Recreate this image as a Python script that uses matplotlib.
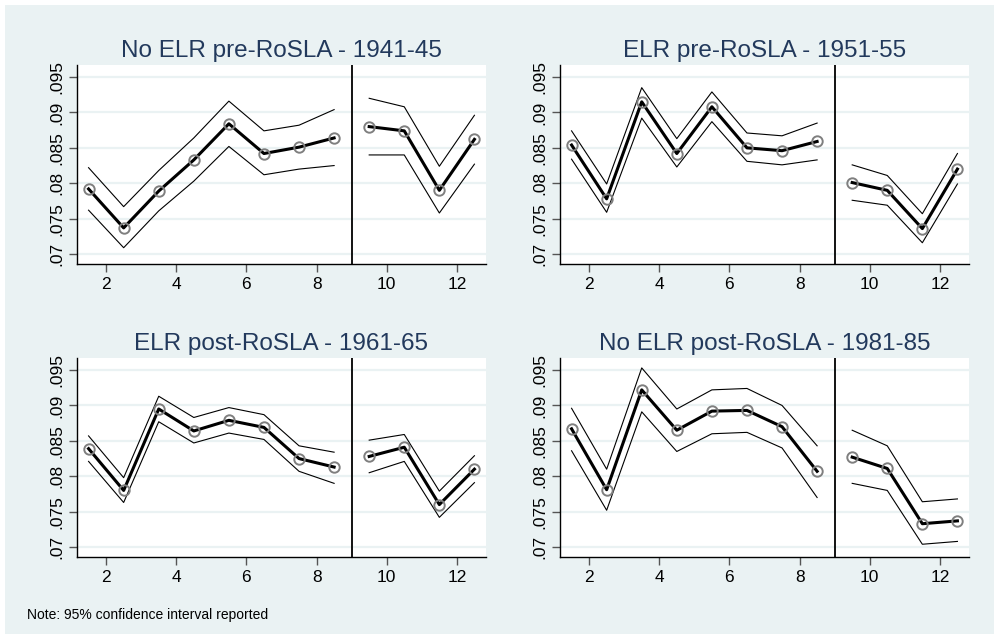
import matplotlib.pyplot as plt
from matplotlib.patches import Rectangle

plt.rcParams['font.family'] = ['Liberation Sans', 'DejaVu Sans']

# bins: 1.5 .. 8.5 before the cut, 9.5 .. 12.5 after
x_pre = [1.5, 2.5, 3.5, 4.5, 5.5, 6.5, 7.5, 8.5]
x_post = [9.5, 10.5, 11.5, 12.5]

titles = ["No ELR pre-RoSLA - 1941-45", "ELR pre-RoSLA - 1951-55",
          "ELR post-RoSLA - 1961-65", "No ELR post-RoSLA - 1981-85"]

est_4145 = [.0792, .0737, .0789, .0833, .0884, .0842, .0851, .0864, .0880, .0874, .0790, .0862]
hi_4145 = [.0822, .0767, .0818, .0864, .0916, .0874, .0882, .0904, .0920, .0908, .0824, .0896]
lo_4145 = [.0762, .0709, .0761, .0803, .0852, .0812, .0820, .0825, .0840, .0840, .0758, .0827]

est_5155 = [.0854, .0778, .0915, .0842, .0908, .0850, .0846, .0859, .0801, .0790, .0736, .0820]
hi_5155 = [.0874, .0799, .0935, .0863, .0929, .0871, .0867, .0885, .0826, .0811, .0757, .0842]
lo_5155 = [.0834, .0759, .0892, .0823, .0887, .0831, .0826, .0833, .0776, .0769, .0716, .0799]

est_6165 = [.0839, .0780, .0895, .0864, .0879, .0869, .0825, .0813, .0828, .0841, .0760, .0810]
hi_6165 = [.0857, .0798, .0913, .0883, .0897, .0887, .0843, .0834, .0851, .0859, .0779, .0829]
lo_6165 = [.0821, .0763, .0877, .0847, .0861, .0852, .0807, .0790, .0805, .0821, .0742, .0791]

est_8185 = [.0867, .0781, .0922, .0865, .0892, .0893, .0870, .0807, .0827, .0811, .0733, .0737]
hi_8185 = [.0896, .0810, .0953, .0895, .0922, .0924, .0900, .0843, .0865, .0843, .0764, .0768]
lo_8185 = [.0836, .0752, .0891, .0835, .0860, .0862, .0840, .0770, .0790, .0780, .0704, .0708]

panels = [(est_4145, lo_4145, hi_4145), (est_5155, lo_5155, hi_5155),
          (est_6165, lo_6165, hi_6165), (est_8185, lo_8185, hi_8185)]

yticks = [.07, .075, .08, .085, .09, .095]
ylabels = [".07", ".075", ".08", ".085", ".09", ".095"]
xticks = [2, 4, 6, 8, 10, 12]

W, H = 995, 634
fig = plt.figure(figsize=(W / 100, H / 100), dpi=100, facecolor="white")
fig.patches.append(Rectangle((5 / W, 0), 1, (H - 5) / H, transform=fig.transFigure,
                             facecolor="#eaf2f3", edgecolor="none", zorder=-10))

# plot regions in pixels: left, top, right, bottom
boxes = [(77, 65, 486, 264), (560, 65, 969, 264),
         (77, 358, 486, 557), (560, 358, 969, 557)]

for (l, t, r, b), title, (est, lo, hi) in zip(boxes, titles, panels):
    ax = fig.add_axes([l / W, 1 - b / H, (r - l) / W, (b - t) / H])
    ax.set_facecolor("white")
    for yt in yticks:
        ax.axhline(yt, color="#eaf2f3", lw=1.6, zorder=0)
    n = len(x_pre)
    for xs, sl in ((x_pre, slice(0, n)), (x_post, slice(n, None))):
        ax.plot(xs, hi[sl], color="black", lw=0.8, zorder=2)
        ax.plot(xs, lo[sl], color="black", lw=0.8, zorder=2)
        ax.plot(xs, est[sl], color="black", lw=2.2, zorder=3)
        ax.plot(xs, est[sl], ls="none", marker="o", ms=7.5, mfc="none",
                mec="#7f7f7f", mew=1.4, zorder=4)
    ax.axvline(9, color="black", lw=1.3, zorder=3)
    ax.set_xlim(1.17, 12.83)
    ax.set_ylim(.0686, .0967)
    ax.set_xticks(xticks)
    ax.set_yticks(yticks)
    ax.set_yticklabels(ylabels, rotation=90, va="center")
    ax.tick_params(axis="both", labelsize=12.5, length=6, width=1,
                   color="#555555", pad=3)
    for s in ("top", "right"):
        ax.spines[s].set_visible(False)
    for s in ("left", "bottom"):
        ax.spines[s].set_color("black")
        ax.spines[s].set_linewidth(1)
    ax.set_title(title, fontsize=17.5, color="#22395c", pad=6)

fig.text(27 / W, 1 - 615 / H, "Note: 95% confidence interval reported",
         fontsize=10, va="center", ha="left", color="black")

fig.savefig("out.png", dpi=100, facecolor="white")
